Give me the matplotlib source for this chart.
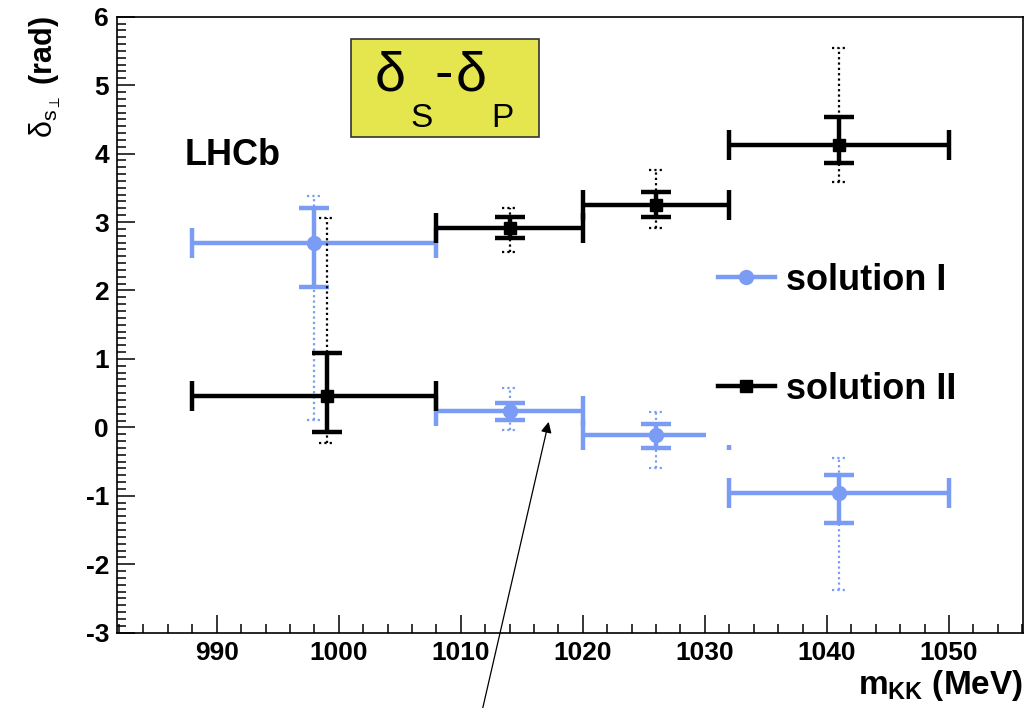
import numpy as np
import matplotlib.pyplot as plt
from matplotlib.lines import Line2D
from matplotlib.patches import Rectangle
from matplotlib.ticker import MultipleLocator

plt.rcParams['font.family'] = ['Liberation Sans', 'DejaVu Sans']
plt.rcParams['mathtext.fontset'] = 'custom'
plt.rcParams['mathtext.rm'] = 'Liberation Sans'
plt.rcParams['mathtext.it'] = 'Liberation Sans:italic'
plt.rcParams['mathtext.bf'] = 'Liberation Sans:bold'
plt.rcParams['mathtext.sf'] = 'Liberation Sans'
plt.rcParams['axes.unicode_minus'] = False

# m_KK bins (MeV)
BIN_LO = [988, 1008, 1020, 1032]
BIN_HI = [1008, 1020, 1032, 1050]

# solution I
X_SOL1 = [998, 1014, 1026, 1041]
Y_SOL1 = [2.69, 0.24, -0.11, -0.96]
STAT_UP_SOL1 = [0.52, 0.12, 0.16, 0.26]
STAT_DN_SOL1 = [0.64, 0.13, 0.19, 0.44]
SYST_UP_SOL1 = [0.69, 0.34, 0.34, 0.51]
SYST_DN_SOL1 = [2.58, 0.28, 0.48, 1.42]

# solution II
X_SOL2 = [999, 1014, 1026, 1041]
Y_SOL2 = [0.46, 2.91, 3.25, 4.12]
STAT_UP_SOL2 = [0.63, 0.16, 0.19, 0.41]
STAT_DN_SOL2 = [0.53, 0.14, 0.18, 0.26]
SYST_UP_SOL2 = [2.60, 0.30, 0.51, 1.42]
SYST_DN_SOL2 = [0.69, 0.35, 0.34, 0.54]

LABELS = ['solution I', 'solution II']
BLUE = '#7b9cf5'
BLACK = 'black'

ARROW_TIP = (1017.2, 0.08)
ARROW_TAIL = (1011.8, -4.1)

DOTTED = (0, (1.0, 1.4))


def draw_series(ax, x, y, sup, sdn, yup, ydn, color, marker, ms):
    x = np.array(x, dtype=float)
    y = np.array(y)
    xerr = [x - np.array(BIN_LO), np.array(BIN_HI) - x]
    ax.errorbar(x, y, xerr=xerr, yerr=[sdn, sup], fmt=marker, color=color,
                ms=ms, elinewidth=3.2, capsize=11, capthick=3.2, zorder=3)
    eb = ax.errorbar(x, y, yerr=[ydn, yup], fmt='none', ecolor=color,
                     elinewidth=1.6, zorder=3)
    eb[2][0].set_linestyle(DOTTED)
    hi = y + np.array(yup)
    lo = y - np.array(ydn)
    ax.hlines(np.concatenate([hi, lo]), np.concatenate([x, x]) - 0.6,
              np.concatenate([x, x]) + 0.6, colors=color, lw=1.6,
              linestyles=DOTTED, zorder=3)


fig = plt.figure(figsize=(10.32, 7.08), dpi=100)
ax = fig.add_axes([0.1137, 0.1064, 0.8779, 0.8700])

draw_series(ax, X_SOL1, Y_SOL1, STAT_UP_SOL1, STAT_DN_SOL1,
            SYST_UP_SOL1, SYST_DN_SOL1, BLUE, 'o', 10)
draw_series(ax, X_SOL2, Y_SOL2, STAT_UP_SOL2, STAT_DN_SOL2,
            SYST_UP_SOL2, SYST_DN_SOL2, BLACK, 's', 9)

ax.set_xlim(981.86, 1056.09)
ax.set_ylim(-3, 6)
ax.xaxis.set_major_locator(MultipleLocator(10))
ax.xaxis.set_minor_locator(MultipleLocator(2))
ax.yaxis.set_major_locator(MultipleLocator(1))
ax.yaxis.set_minor_locator(MultipleLocator(0.1))
ax.tick_params(which='both', direction='in', top=False, right=False, width=1.1)
ax.tick_params(which='major', length=12.7, labelsize=19, pad=6)
ax.tick_params(which='minor', length=6.3)
for lab in ax.get_xticklabels() + ax.get_yticklabels():
    lab.set_fontweight('bold')
for sp in ax.spines.values():
    sp.set_linewidth(1.2)

ax.set_xlabel(r'm$_{\mathbf{KK}}$ (MeV)', fontsize=24, fontweight='bold',
              loc='right', labelpad=2)
ax.set_ylabel(r'$\mathrm{\delta}_{\mathrm{s}_{\perp}}$ (rad)', fontsize=22,
              fontweight='bold', loc='top', labelpad=16)

# legend pad (white box, as in the original)
ax.add_patch(Rectangle((0.650, 0.304), 0.324, 0.312, transform=ax.transAxes,
                       facecolor='white', edgecolor='none', zorder=5))
handles = [Line2D([], [], color=BLUE, lw=3.2, marker='o', ms=10),
           Line2D([], [], color=BLACK, lw=3.2, marker='s', ms=9)]
leg = ax.legend(handles, LABELS, loc='upper left', bbox_to_anchor=(0.663, 0.600),
                frameon=False, borderpad=0, borderaxespad=0,
                handlelength=1.57, handletextpad=0.3, labelspacing=2.05,
                prop={'size': 26, 'weight': 'bold'})
leg.set_zorder(6)

ax.text(0.074, 0.759, 'LHCb', transform=ax.transAxes, fontsize=26,
        fontweight='bold', ha='left', va='baseline')

# title box
ax.add_patch(Rectangle((0.2576, 0.8042), 0.2082, 0.1591, transform=ax.transAxes,
                       facecolor='#e5e54d', edgecolor='#333333', lw=1.2, zorder=4))
ax.text(0.2842, 0.8810, 'δ', transform=ax.transAxes, fontsize=40, zorder=6)
ax.text(0.3238, 0.8209, 'S', transform=ax.transAxes, fontsize=24, zorder=6)
ax.text(0.3496, 0.8810, '-', transform=ax.transAxes, fontsize=40, zorder=6)
ax.text(0.3739, 0.8810, 'δ', transform=ax.transAxes, fontsize=40, zorder=6)
ax.text(0.4124, 0.8209, 'P', transform=ax.transAxes, fontsize=24, zorder=6)

ax.annotate('', xy=ARROW_TIP, xytext=ARROW_TAIL, xycoords='data',
            annotation_clip=False,
            arrowprops=dict(arrowstyle='-|>', color='black', lw=0.9,
                            mutation_scale=16, shrinkA=0, shrinkB=0))

fig.savefig('out.png', dpi=100)
